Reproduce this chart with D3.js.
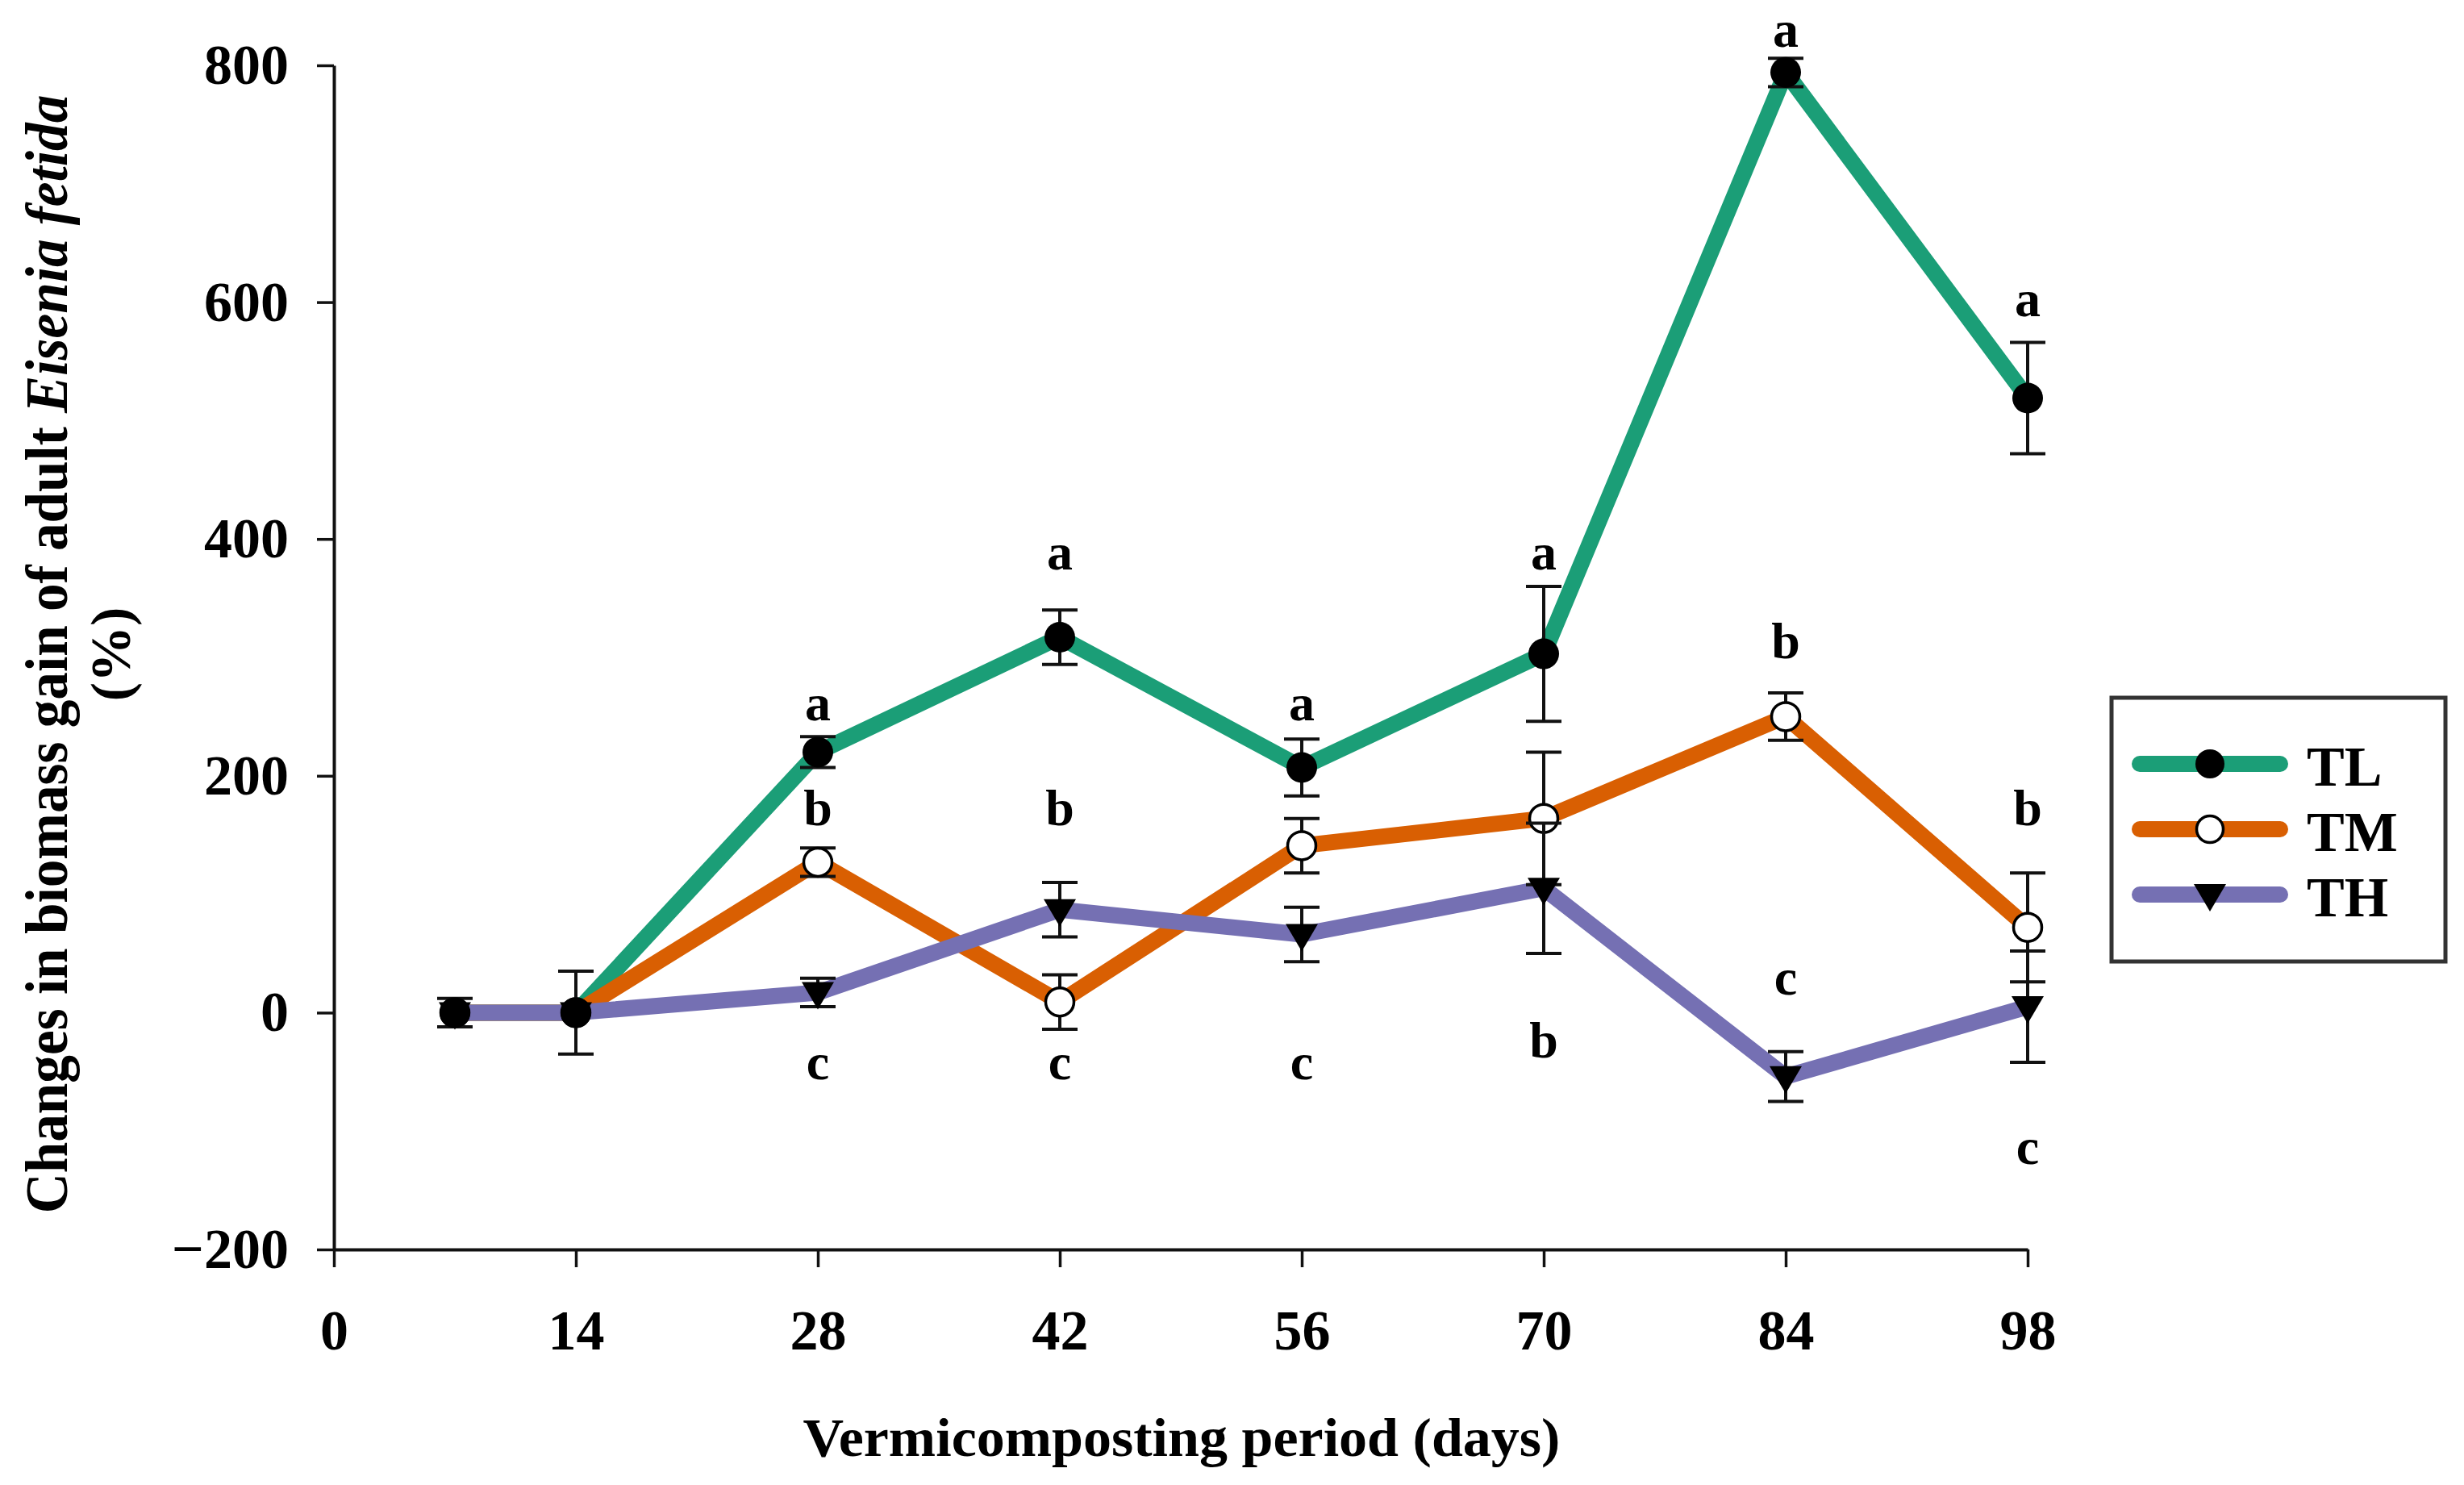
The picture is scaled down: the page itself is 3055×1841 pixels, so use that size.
<!DOCTYPE html>
<html>
<head>
<meta charset="utf-8">
<script src="https://cdn.jsdelivr.net/npm/d3@7"></script>
<style>
  body { margin: 0; background: #fff; }
  text { font-family: "Liberation Serif", "Times New Roman", serif; font-weight: bold; }
</style>
</head>
<body>
<svg id="chart"></svg>
<script>
// data
const days = [7, 14, 28, 42, 56, 70, 84, 98];
const xTicks = [0, 14, 28, 42, 56, 70, 84, 98];
const yTicks = [-200, 0, 200, 400, 600, 800];

const seriesNames = ["TL", "TM", "TH"];
const tlMean = [0, 0, 220, 317, 207, 303, 794, 519];
const tlErr = [0, 35, 13, 23, 24, 57, 12, 47];
const tmMean = [0, 0, 127, 9, 141, 164, 250, 72];
const tmErr = [0, 0, 12, 23, 23, 56, 20, 46];
const thMean = [0, 0, 17, 87, 66, 105, -54, 5];
const thErr = [12, 0, 12, 23, 23, 55, 21, 47];

// significance letters (day, y position in data units, letter)
const letterDays = [28, 28, 28, 42, 42, 42, 56, 56, 70, 70, 84, 84, 84, 98, 98, 98];
const letterPos = [247, 158, -56, 374, 158, -56, 247, -56, 374, -38, 816, 299, 15, 588, 158, -128];
const letterText = ["a", "b", "c", "a", "b", "c", "a", "c", "a", "b", "a", "b", "c", "a", "b", "c"];

const colors = { TL: "#1b9e77", TM: "#d95f02", TH: "#7570b3" };

const W = 3055, H = 1841;
const svg = d3.select("#chart").attr("width", W).attr("height", H);

const x = d3.scaleLinear().domain([0, 98]).range([414, 2514]);
const y = d3.scaleLinear().domain([-200, 800]).range([1549, 81]);

// axes
const yAxis = svg.append("g")
    .attr("transform", `translate(${x(0)},0)`)
    .call(d3.axisLeft(y).tickValues(yTicks).tickSize(21).tickSizeOuter(0).tickPadding(35));
const xAxis = svg.append("g")
    .attr("transform", `translate(0,${y(-200)})`)
    .call(d3.axisBottom(x).tickValues(xTicks).tickSize(22).tickSizeOuter(0).tickPadding(52));

[yAxis, xAxis].forEach(g => {
    g.select(".domain").attr("stroke", "#111").attr("stroke-width", 4);
    g.selectAll(".tick line").attr("stroke", "#111").attr("stroke-width", 3.5);
    g.selectAll(".tick text").attr("font-size", 70).attr("fill", "#000")
        .style("font-family", "'Liberation Serif', serif").style("font-weight", "bold");
});

// axis titles
const fitWidth = (sel, target) => {
    const w = sel.node().getComputedTextLength();
    return target / w;
};

const yTitle = svg.append("g");
const yLine1 = yTitle.append("text").attr("font-size", 75).attr("text-anchor", "middle");
yLine1.append("tspan").text("Changes in biomass gain of adult ");
yLine1.append("tspan").attr("font-style", "italic").text("Eisenia fetida");
const k1 = fitWidth(yLine1, 1387);
yLine1.attr("transform", `translate(83,811) rotate(-90) scale(${k1},1)`);
yTitle.append("text").attr("font-size", 70).attr("text-anchor", "middle")
    .attr("transform", "translate(161,811) rotate(-90)")
    .text("(%)");

const xTitle = svg.append("text").attr("font-size", 68).attr("text-anchor", "middle")
    .text("Vermicomposting period (days)");
const k2 = fitWidth(xTitle, 939);
xTitle.attr("transform", `translate(1465,1805) scale(${k2},1)`);

// series
const series = [
    { name: "TL", mean: tlMean, err: tlErr },
    { name: "TM", mean: tmMean, err: tmErr },
    { name: "TH", mean: thMean, err: thErr }
];

const line = d3.line().x(d => x(d.day)).y(d => y(d.v));
const pts = s => days.map((d, i) => ({ day: d, v: s.mean[i], e: s.err[i] }));

series.forEach(s => {
    svg.append("path")
        .datum(pts(s))
        .attr("d", line)
        .attr("fill", "none")
        .attr("stroke", colors[s.name])
        .attr("stroke-width", 20)
        .attr("stroke-linejoin", "round");
});

const triPath = "M-20,-13L20,-13L0,21Z";

const drawMarker = (g, name, cx, cy, r) => {
    if (name === "TL") {
        g.append("circle").attr("cx", cx).attr("cy", cy).attr("r", r).attr("fill", "#000");
    } else if (name === "TM") {
        g.append("circle").attr("cx", cx).attr("cy", cy).attr("r", r - 1.5)
            .attr("fill", "#fff").attr("stroke", "#000").attr("stroke-width", 3.5);
    } else {
        g.append("path").attr("d", triPath).attr("transform", `translate(${cx},${cy})`).attr("fill", "#000");
    }
};

// error bars + markers, drawn TM, TH, TL
["TM", "TH", "TL"].forEach(name => {
    const s = series.find(d => d.name === name);
    const g = svg.append("g");
    pts(s).filter(p => p.e > 0).forEach(p => {
        const eb = g.append("g").attr("stroke", "#111").attr("stroke-width", 4);
        eb.append("line").attr("x1", x(p.day)).attr("x2", x(p.day))
            .attr("y1", y(p.v + p.e)).attr("y2", y(p.v - p.e));
        [p.v + p.e, p.v - p.e].forEach(v => {
            eb.append("line").attr("x1", x(p.day) - 22).attr("x2", x(p.day) + 22)
                .attr("y1", y(v)).attr("y2", y(v));
        });
    });
    pts(s).forEach(p => drawMarker(g, name, x(p.day), y(p.v), 19));
});

// letters
svg.append("g").selectAll("text")
    .data(letterText.map((t, i) => ({ t, day: letterDays[i], v: letterPos[i] })))
    .enter().append("text")
    .attr("x", d => x(d.day))
    .attr("y", d => y(d.v))
    .attr("text-anchor", "middle")
    .attr("font-size", 64)
    .text(d => d.t);

// legend
const lg = svg.append("g");
lg.append("rect").attr("x", 2618).attr("y", 865).attr("width", 414).attr("height", 327)
    .attr("fill", "#fff").attr("stroke", "#333").attr("stroke-width", 5);
seriesNames.forEach((name, i) => {
    const ly = 947 + i * 81;
    lg.append("line").attr("x1", 2653).attr("x2", 2827).attr("y1", ly).attr("y2", ly)
        .attr("stroke", colors[name]).attr("stroke-width", 20).attr("stroke-linecap", "round");
    drawMarker(lg, name, 2740, ly, 18);
    lg.append("text").attr("x", 2860).attr("y", ly + 27).attr("font-size", 70).text(name);
});
</script>
</body>
</html>
